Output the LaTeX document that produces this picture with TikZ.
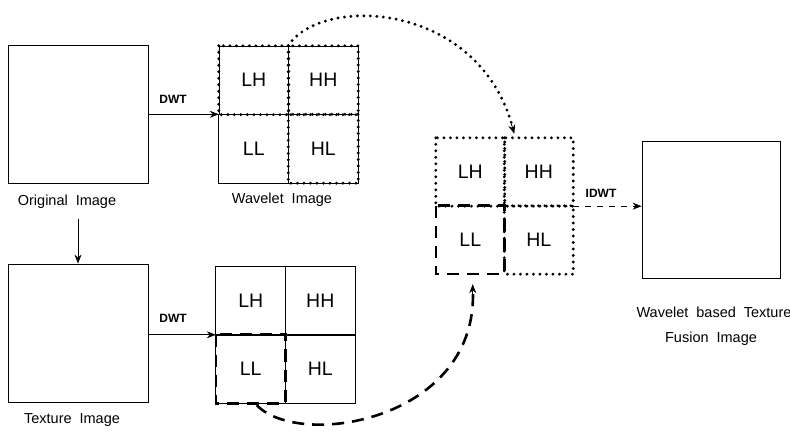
\documentclass[tikz,border=0pt]{standalone}
\usepackage{fontspec}
\setmainfont{Liberation Sans}
\usetikzlibrary{arrows.meta}
\newcommand{\cellfnt}{\fontsize{19.5}{22}\selectfont}
\newcommand{\lblfnt}{\fontsize{14.5}{16}\selectfont\spaceskip=0.55em plus 0.1em}
\newcommand{\dwtfnt}{\fontsize{12}{13}\selectfont\bfseries}
\begin{document}
\begin{tikzpicture}[x=1pt,y=-1pt,
  imgbox/.style={draw,line width=0.8pt,rectangle,inner sep=0,minimum width=140pt,minimum height=138pt},
  cellA/.style={rectangle,inner sep=0,minimum width=69.5pt,minimum height=68.5pt,font=\cellfnt},
  cellB/.style={rectangle,inner sep=0,minimum width=69.5pt,minimum height=68pt,font=\cellfnt},
  cellC/.style={rectangle,inner sep=0,minimum width=68.5pt,minimum height=68pt,font=\cellfnt},
  thinline/.style={draw,line width=0.7pt},
  dotline/.style={draw,line width=3.2pt,line cap=round,dash pattern=on 0pt off 6.5pt},
  dashline/.style={draw,line width=2.6pt,dash pattern=on 12pt off 8pt},
  lbl/.style={font=\lblfnt,inner sep=0},
  dwt/.style={font=\dwtfnt,inner sep=0},
  arr/.style={-{Stealth[length=9pt,width=7pt]},line width=0.8pt},
]
\useasboundingbox (0,0) rectangle (790,438);

% original and texture images
\node[imgbox] (orig) at (78,114) {};
\node[lbl] (origlbl) at (67,202) {Original Image};
\node[imgbox] (tex) at (78,333) {};
\node[lbl] (texlbl) at (72,420) {Texture Image};

% wavelet image grid
\node[cellA] (wLH) at (253.75,80.25) {LH};
\node[cellA] (wHH) at (323.25,80.25) {HH};
\node[cellA] (wLL) at (253.75,148.75) {LL};
\node[cellA] (wHL) at (323.25,148.75) {HL};
\draw[thinline] (wLL.north west) rectangle (wLL.south east);
\foreach \c in {wLH,wHH,wHL}{
  \draw[line width=0.5pt] (\c.north west) rectangle (\c.south east);
  \draw[dotline] (\c.north west) rectangle (\c.south east);
}
\node[lbl] (wavlbl) at (282,200) {Wavelet Image};

% texture wavelet grid
\node[cellB] (tLH) at (250.75,301) {LH};
\node[cellB] (tHH) at (320.25,301) {HH};
\node[cellB] (tLL) at (250.75,369) {LL};
\node[cellB] (tHL) at (320.25,369) {HL};
\foreach \c in {tLH,tHH,tHL,tLL}{
  \draw[thinline] (\c.north west) rectangle (\c.south east);
}
\draw[dashline] (tLL.north west) rectangle (tLL.south east);

% fused grid
\node[cellC] (fLH) at (470.25,172) {LH};
\node[cellC] (fHH) at (538.75,172) {HH};
\node[cellC] (fLL) at (470.25,240) {LL};
\node[cellC] (fHL) at (538.75,240) {HL};
\foreach \c in {fLH,fHH,fHL}{
  \draw[dotline] (\c.north west) rectangle (\c.south east);
}
\draw[dashline] (fLL.north west) rectangle (fLL.south east);

% fusion image
\node[imgbox,minimum width=138pt,minimum height=137pt] (fus) at (711,209.5) {};
\node[lbl] (fuslbl1) at (714,312) {Wavelet based Texture};
\node[lbl] (fuslbl2) at (711,339) {Fusion Image};

% connectors
\draw[arr] (orig.east |- wLL.north west) -- (wLL.north west);
\node[dwt] (dwt1) at (173,99) {DWT};
\draw[arr] (tex.east |- tLL.north west) -- (tLL.north west);
\node[dwt] (dwt2) at (173,318) {DWT};
\coordinate (vstart) at (78,219);
\draw[arr] (vstart) -- (tex.north);
\draw[arr,dash pattern=on 6pt off 6pt] (fHH.south east) -- (fus.west |- fHH.south east);
\node[dwt] (idwt) at (601,193) {IDWT};

\draw[dotline] (wHH.north west) .. controls (320,-5) and (480,0) .. ([xshift=9pt,yshift=8pt]fHH.north west);
\draw[-{Stealth[length=9pt,width=7pt]},line width=0.8pt] ([xshift=7pt,yshift=14pt]fHH.north west) -- ([xshift=10pt,yshift=4pt]fHH.north west);

\draw[dashline] ([xshift=6pt,yshift=-2pt]tLL.south) .. controls (300,450) and (480,420) .. ([yshift=-14pt,xshift=2.5pt]fLL.south);
\draw[-{Stealth[length=9pt,width=7pt]},line width=0.8pt] ([yshift=-20pt,xshift=2.5pt]fLL.south) -- ([yshift=-10pt,xshift=2.5pt]fLL.south);
\end{tikzpicture}
\end{document}
